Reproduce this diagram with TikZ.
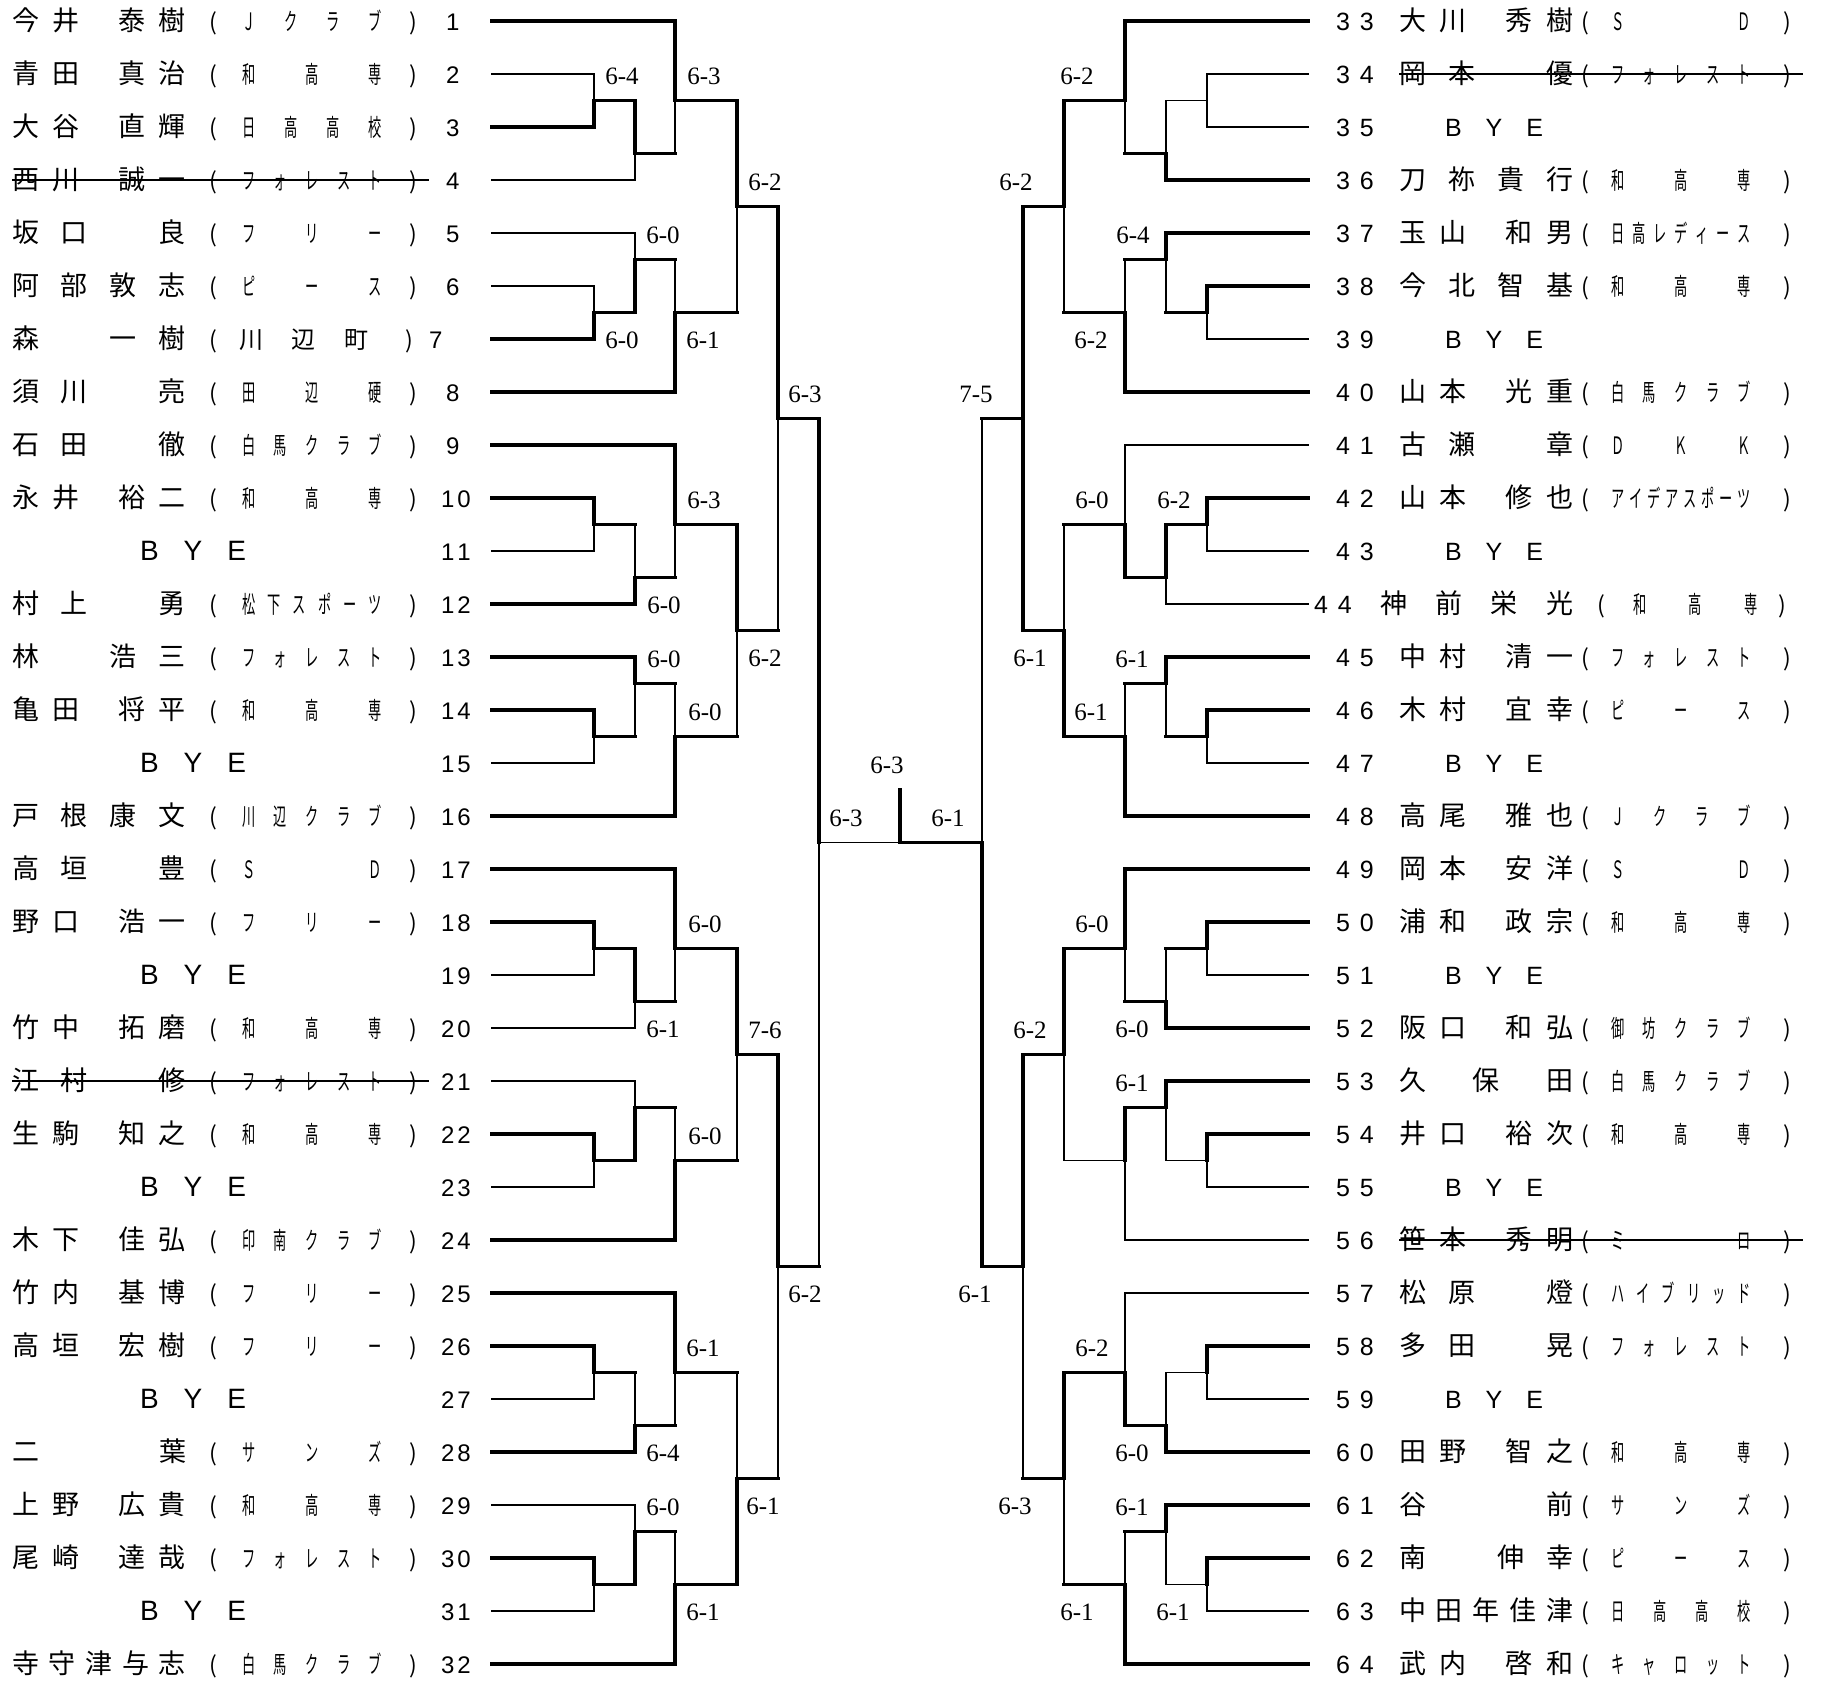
\documentclass[tikz,border=0pt]{standalone}
\usepackage{fontspec}
\setmainfont{Liberation Serif}
\newfontfamily\jpname{Noto Sans CJK JP}
\newfontfamily\jpaff[FakeStretch=0.55]{Noto Sans CJK JP}
\newfontfamily\numfam{Liberation Sans}

\newcommand\namefont{\jpname\fontsize{13.5pt}{16pt}\selectfont}
\newcommand\afffont{\jpaff\fontsize{12pt}{14pt}\selectfont}
\newcommand\parfont{\jpname\fontsize{11.5pt}{14pt}\selectfont}
\newcommand\lnumfont{\numfam\fontsize{12pt}{14pt}\selectfont}
\newcommand\rnumfont{\numfam\fontsize{12.5pt}{14pt}\selectfont}
\newcommand\hs{\hspace*{0.5em}}
\newcommand\fs{\hspace*{1em}}

\makeatletter
\newcommand\spread[1]{\let\sp@sep\relax\@tfor\sp@tok:=#1\do{\sp@sep\sp@tok\let\sp@sep\hfill}}
\newcommand\tracked[2]{\let\tr@sep\relax\@tfor\tr@tok:=#2\do{\tr@sep\tr@tok\def\tr@sep{\hspace{#1}}}}
\makeatother

\tikzset{
  win/.style = {line width=1.7pt, line cap=rect},
  lose/.style = {line width=0.65pt, line cap=rect},
  txt/.style = {inner sep=0pt, outer sep=0pt, yshift=-4.75pt},
  score/.style = {inner sep=0pt, font=\fontsize{12.5pt}{14pt}\selectfont},
}

% bracket columns (left, right)
\newcommand\cLa{594}\newcommand\cLb{635}\newcommand\cLc{675}
\newcommand\cLd{737}\newcommand\cLe{778}\newcommand\cLf{819}
\newcommand\cRa{1207}\newcommand\cRb{1166}\newcommand\cRc{1125}
\newcommand\cRd{1064}\newcommand\cRe{1023}\newcommand\cRf{982}

\newcommand\lline[3]{\draw[#3] (492,#1) -- (#2,#1);}
\newcommand\rline[3]{\draw[#3] (1308,#1) -- (#2,#1);}
% column, top row, top style, out row, bottom row, bottom style, next column, out style
\newcommand\match[8]{%
  \draw[#3] (#1,#2) -- (#1,#4);
  \draw[#6] (#1,#4) -- (#1,#5);
  \draw[#8] (#1,#4) -- (#7,#4);}

\newcounter{sc}
\newcommand\sca[3]{\stepcounter{sc}\node[score] (sc\arabic{sc}) at (#1,#2-0.45) {#3};}
\newcommand\scb[3]{\stepcounter{sc}\node[score] (sc\arabic{sc}) at (#1,#2+0.52) {#3};}

\newcommand\lentry[4]{%
  \node[txt, anchor=base west] (n#4) at (12,#1) {\hbox to 87pt{\namefont\spread{#2}}};
  \node[txt, anchor=base] (po#4) at (213.5,#1) {\parfont(};
  \node[txt, anchor=base west] (a#4) at (242,#1) {\hbox to 70pt{\afffont\spread{#3}}};
  \node[txt, anchor=base] (pc#4) at (413,#1) {\parfont)};
  \node[txt, anchor=base west] (k#4) at ({ifthenelse(#4<10,446,441)},#1) {\lnumfont\tracked{1.5pt}{#4}};}
\newcommand\lbye[2]{%
  \node[txt, anchor=base west] (n#2) at (140,#1) {\numfam\fontsize{14pt}{16pt}\selectfont\tracked{12.5pt}{BYE}};
  \node[txt, anchor=base west] (k#2) at (441,#1) {\lnumfont\tracked{1.5pt}{#2}};}
\newcommand\rentry[4]{%
  \node[txt, anchor=base west] (k#2) at (1336,#1) {\rnumfont\tracked{5pt}{#2}};
  \node[txt, anchor=base west] (n#2) at (1399,#1) {\hbox to 87pt{\namefont\spread{#3}}};
  \node[txt, anchor=base] (po#2) at (1585,#1) {\parfont(};
  \node[txt, anchor=base west] (a#2) at (1611,#1) {\hbox to 70pt{\afffont\spread{#4}}};
  \node[txt, anchor=base] (pc#2) at (1787,#1) {\parfont)};}
\newcommand\rbye[2]{%
  \node[txt, anchor=base west] (k#2) at (1336,#1) {\rnumfont\tracked{5pt}{#2}};
  \node[txt, anchor=base west] (n#2) at (1445,#1) {\rnumfont\tracked{12pt}{BYE}};}

\begin{document}
\begin{tikzpicture}[x=0.5pt, y=-26.5pt]
\fill[white] (0,0.6038) rectangle (1823,32.302);
\useasboundingbox (0,0.6038) rectangle (1823,32.302);

% left entries
\lentry{1}{今井\hs 泰樹}{Ｊクラブ}{1}
\lentry{2}{青田\hs 真治}{和高専}{2}
\lentry{3}{大谷\hs 直輝}{日高高校}{3}
\lentry{4}{西川\hs 誠一}{フォレスト}{4}
\lentry{5}{坂口\fs 良}{フリー}{5}
\lentry{6}{阿部敦志}{ピース}{6}
\node[txt, anchor=base west] (n7) at (12,7) {\hbox to 87pt{\namefont\spread{森\fs 一樹}}};
\node[txt, anchor=base] (po7) at (213.5,7) {\parfont(};
\node[txt, anchor=base west] (a7) at (239,7) {\hbox to 64.5pt{\jpname\fontsize{12pt}{14pt}\selectfont\spread{川辺町}}};
\node[txt, anchor=base] (pc7) at (409,7) {\parfont)};
\node[txt, anchor=base west] (k7) at (429,7) {\lnumfont 7};
\lentry{8}{須川\fs 亮}{田辺硬}{8}
\lentry{9}{石田\fs 徹}{白馬クラブ}{9}
\lentry{10}{永井\hs 裕二}{和高専}{10}
\lbye{11}{11}
\lentry{12}{村上\fs 勇}{松下スポーツ}{12}
\lentry{13}{林\fs 浩三}{フォレスト}{13}
\lentry{14}{亀田\hs 将平}{和高専}{14}
\lbye{15}{15}
\lentry{16}{戸根康文}{川辺クラブ}{16}
\lentry{17}{高垣\fs 豊}{ＳＤ}{17}
\lentry{18}{野口\hs 浩一}{フリー}{18}
\lbye{19}{19}
\lentry{20}{竹中\hs 拓磨}{和高専}{20}
\lentry{21}{江村\fs 修}{フォレスト}{21}
\lentry{22}{生駒\hs 知之}{和高専}{22}
\lbye{23}{23}
\lentry{24}{木下\hs 佳弘}{印南クラブ}{24}
\lentry{25}{竹内\hs 基博}{フリー}{25}
\lentry{26}{高垣\hs 宏樹}{フリー}{26}
\lbye{27}{27}
\lentry{28}{二葉}{サンズ}{28}
\lentry{29}{上野\hs 広貴}{和高専}{29}
\lentry{30}{尾崎\hs 達哉}{フォレスト}{30}
\lbye{31}{31}
\lentry{32}{寺守津与志}{白馬クラブ}{32}
\draw[lose] (13,4) -- (428,4);
\draw[lose] (13,21) -- (428,21);

% right entries
\rentry{1}{33}{大川\hs 秀樹}{ＳＤ}
\rentry{2}{34}{岡本\fs 優}{フォレスト}
\rbye{3}{35}
\rentry{4}{36}{刀祢貴行}{和高専}
\rentry{5}{37}{玉山\hs 和男}{日高レディース}
\rentry{6}{38}{今北智基}{和高専}
\rbye{7}{39}
\rentry{8}{40}{山本\hs 光重}{白馬クラブ}
\rentry{9}{41}{古瀬\fs 章}{ＤＫＫ}
\rentry{10}{42}{山本\hs 修也}{アイデアスポーツ}
\rbye{11}{43}
\node[txt, anchor=base west] (k44) at (1314,12) {\rnumfont\tracked{5pt}{44}};
\node[txt, anchor=base west] (n44) at (1380,12) {\hbox to 96.5pt{\namefont\spread{神前栄光}}};
\node[txt, anchor=base] (po44) at (1601,12) {\parfont(};
\node[txt, anchor=base west] (a44) at (1633,12) {\hbox to 62.5pt{\afffont\spread{和高専}}};
\node[txt, anchor=base] (pc44) at (1782,12) {\parfont)};
\rentry{13}{45}{中村\hs 清一}{フォレスト}
\rentry{14}{46}{木村\hs 宜幸}{ピース}
\rbye{15}{47}
\rentry{16}{48}{高尾\hs 雅也}{Ｊクラブ}
\rentry{17}{49}{岡本\hs 安洋}{ＳＤ}
\rentry{18}{50}{浦和\hs 政宗}{和高専}
\rbye{19}{51}
\rentry{20}{52}{阪口\hs 和弘}{御坊クラブ}
\rentry{21}{53}{久保田}{白馬クラブ}
\rentry{22}{54}{井口\hs 裕次}{和高専}
\rbye{23}{55}
\rentry{24}{56}{笹本\hs 秀明}{ミロ}
\rentry{25}{57}{松原\fs 燈}{ハイブリッド}
\rentry{26}{58}{多田\fs 晃}{フォレスト}
\rbye{27}{59}
\rentry{28}{60}{田野\hs 智之}{和高専}
\rentry{29}{61}{谷前}{サンズ}
\rentry{30}{62}{南\fs 伸幸}{ピース}
\rentry{31}{63}{中田年佳津}{日高高校}
\rentry{32}{64}{武内\hs 啓和}{キャロット}
\draw[lose] (1400,2) -- (1802,2);
\draw[lose] (1400,24) -- (1802,24);

% left bracket
\lline{1}{\cLc}{win} \lline{2}{\cLa}{lose} \lline{3}{\cLa}{win} \lline{4}{\cLb}{lose}
\lline{5}{\cLb}{lose} \lline{6}{\cLa}{lose} \lline{7}{\cLa}{win} \lline{8}{\cLc}{win}
\match{\cLa}{2}{lose}{2.5}{3}{win}{\cLb}{win}
\match{\cLb}{2.5}{win}{3.5}{4}{lose}{\cLc}{win}
\match{\cLc}{1}{win}{2.5}{3.5}{lose}{\cLd}{win}
\match{\cLa}{6}{lose}{6.5}{7}{win}{\cLb}{win}
\match{\cLb}{5}{lose}{5.5}{6.5}{win}{\cLc}{win}
\match{\cLc}{5.5}{lose}{6.5}{8}{win}{\cLd}{win}
\match{\cLd}{2.5}{win}{4.5}{6.5}{lose}{\cLe}{win}
\lline{9}{\cLc}{win} \lline{10}{\cLa}{win} \lline{11}{\cLa}{lose} \lline{12}{\cLb}{win}
\lline{13}{\cLb}{win} \lline{14}{\cLa}{win} \lline{15}{\cLa}{lose} \lline{16}{\cLc}{win}
\match{\cLa}{10}{win}{10.5}{11}{lose}{\cLb}{win}
\match{\cLb}{10.5}{lose}{11.5}{12}{win}{\cLc}{win}
\match{\cLc}{9}{win}{10.5}{11.5}{lose}{\cLd}{win}
\match{\cLa}{14}{win}{14.5}{15}{lose}{\cLb}{win}
\match{\cLb}{13}{win}{13.5}{14.5}{lose}{\cLc}{win}
\match{\cLc}{13.5}{lose}{14.5}{16}{win}{\cLd}{win}
\match{\cLd}{10.5}{win}{12.5}{14.5}{lose}{\cLe}{win}
\match{\cLe}{4.5}{win}{8.5}{12.5}{lose}{\cLf}{win}
\lline{17}{\cLc}{win} \lline{18}{\cLa}{win} \lline{19}{\cLa}{lose} \lline{20}{\cLb}{lose}
\lline{21}{\cLb}{lose} \lline{22}{\cLa}{win} \lline{23}{\cLa}{lose} \lline{24}{\cLc}{win}
\match{\cLa}{18}{win}{18.5}{19}{lose}{\cLb}{win}
\match{\cLb}{18.5}{win}{19.5}{20}{lose}{\cLc}{win}
\match{\cLc}{17}{win}{18.5}{19.5}{lose}{\cLd}{win}
\match{\cLa}{22}{win}{22.5}{23}{lose}{\cLb}{win}
\match{\cLb}{21}{lose}{21.5}{22.5}{win}{\cLc}{win}
\match{\cLc}{21.5}{lose}{22.5}{24}{win}{\cLd}{win}
\match{\cLd}{18.5}{win}{20.5}{22.5}{lose}{\cLe}{win}
\lline{25}{\cLc}{win} \lline{26}{\cLa}{win} \lline{27}{\cLa}{lose} \lline{28}{\cLb}{win}
\lline{29}{\cLb}{lose} \lline{30}{\cLa}{win} \lline{31}{\cLa}{lose} \lline{32}{\cLc}{win}
\match{\cLa}{26}{win}{26.5}{27}{lose}{\cLb}{win}
\match{\cLb}{26.5}{lose}{27.5}{28}{win}{\cLc}{win}
\match{\cLc}{25}{win}{26.5}{27.5}{lose}{\cLd}{win}
\match{\cLa}{30}{win}{30.5}{31}{lose}{\cLb}{win}
\match{\cLb}{29}{lose}{29.5}{30.5}{win}{\cLc}{win}
\match{\cLc}{29.5}{lose}{30.5}{32}{win}{\cLd}{win}
\match{\cLd}{26.5}{lose}{28.5}{30.5}{win}{\cLe}{win}
\match{\cLe}{20.5}{win}{24.5}{28.5}{lose}{\cLf}{win}
\match{\cLf}{8.5}{win}{16.5}{24.5}{lose}{900}{lose}

% right bracket
\rline{1}{\cRc}{win} \rline{2}{\cRa}{lose} \rline{3}{\cRa}{lose} \rline{4}{\cRb}{win}
\rline{5}{\cRb}{win} \rline{6}{\cRa}{win} \rline{7}{\cRa}{lose} \rline{8}{\cRc}{win}
\match{\cRa}{2}{lose}{2.5}{3}{lose}{\cRb}{lose}
\match{\cRb}{2.5}{lose}{3.5}{4}{win}{\cRc}{win}
\match{\cRc}{1}{win}{2.5}{3.5}{lose}{\cRd}{win}
\match{\cRa}{6}{win}{6.5}{7}{lose}{\cRb}{win}
\match{\cRb}{5}{win}{5.5}{6.5}{lose}{\cRc}{win}
\match{\cRc}{5.5}{lose}{6.5}{8}{win}{\cRd}{win}
\match{\cRd}{2.5}{win}{4.5}{6.5}{lose}{\cRe}{win}
\rline{9}{\cRc}{lose} \rline{10}{\cRa}{win} \rline{11}{\cRa}{lose} \rline{12}{\cRb}{lose}
\rline{13}{\cRb}{win} \rline{14}{\cRa}{win} \rline{15}{\cRa}{lose} \rline{16}{\cRc}{win}
\match{\cRa}{10}{win}{10.5}{11}{lose}{\cRb}{win}
\match{\cRb}{10.5}{win}{11.5}{12}{lose}{\cRc}{win}
\match{\cRc}{9}{lose}{10.5}{11.5}{win}{\cRd}{win}
\match{\cRa}{14}{win}{14.5}{15}{lose}{\cRb}{win}
\match{\cRb}{13}{win}{13.5}{14.5}{lose}{\cRc}{win}
\match{\cRc}{13.5}{lose}{14.5}{16}{win}{\cRd}{win}
\match{\cRd}{10.5}{lose}{12.5}{14.5}{win}{\cRe}{win}
\match{\cRe}{4.5}{win}{8.5}{12.5}{win}{\cRf}{win}
\rline{17}{\cRc}{win} \rline{18}{\cRa}{win} \rline{19}{\cRa}{lose} \rline{20}{\cRb}{win}
\rline{21}{\cRb}{win} \rline{22}{\cRa}{win} \rline{23}{\cRa}{lose} \rline{24}{\cRc}{lose}
\match{\cRa}{18}{win}{18.5}{19}{lose}{\cRb}{win}
\match{\cRb}{18.5}{lose}{19.5}{20}{win}{\cRc}{win}
\match{\cRc}{17}{win}{18.5}{19.5}{lose}{\cRd}{win}
\match{\cRa}{22}{win}{22.5}{23}{lose}{\cRb}{lose}
\match{\cRb}{21}{win}{21.5}{22.5}{lose}{\cRc}{win}
\match{\cRc}{21.5}{win}{22.5}{24}{lose}{\cRd}{lose}
\match{\cRd}{18.5}{win}{20.5}{22.5}{lose}{\cRe}{win}
\rline{25}{\cRc}{lose} \rline{26}{\cRa}{win} \rline{27}{\cRa}{lose} \rline{28}{\cRb}{win}
\rline{29}{\cRb}{win} \rline{30}{\cRa}{win} \rline{31}{\cRa}{lose} \rline{32}{\cRc}{win}
\match{\cRa}{26}{win}{26.5}{27}{lose}{\cRb}{lose}
\match{\cRb}{26.5}{lose}{27.5}{28}{win}{\cRc}{win}
\match{\cRc}{25}{lose}{26.5}{27.5}{win}{\cRd}{win}
\match{\cRa}{30}{win}{30.5}{31}{lose}{\cRb}{lose}
\match{\cRb}{29}{win}{29.5}{30.5}{lose}{\cRc}{win}
\match{\cRc}{29.5}{lose}{30.5}{32}{win}{\cRd}{win}
\match{\cRd}{26.5}{win}{28.5}{30.5}{lose}{\cRe}{win}
\match{\cRe}{20.5}{win}{24.5}{28.5}{lose}{\cRf}{win}
\match{\cRf}{8.5}{lose}{16.5}{24.5}{win}{900}{win}
\draw[win] (900,15.5) -- (900,16.5);
\node[score] (final) at (887,15.04) {6-3};

% scores
\sca{622}{2.5}{6-4} \sca{704}{2.5}{6-3} \scb{622}{6.5}{6-0} \sca{663}{5.5}{6-0}
\scb{703}{6.5}{6-1} \sca{765}{4.5}{6-2}
\scb{664}{11.5}{6-0} \sca{704}{10.5}{6-3} \sca{664}{13.5}{6-0} \sca{705}{14.5}{6-0}
\scb{765}{12.5}{6-2} \sca{805}{8.5}{6-3}
\scb{663}{19.5}{6-1} \sca{705}{18.5}{6-0} \sca{705}{22.5}{6-0} \sca{765}{20.5}{7-6}
\scb{663}{27.5}{6-4} \sca{703}{26.5}{6-1} \sca{663}{29.5}{6-0} \scb{703}{30.5}{6-1}
\scb{763}{28.5}{6-1} \scb{805}{24.5}{6-2}
\sca{846}{16.5}{6-3} \sca{948}{16.5}{6-1} \sca{976}{8.5}{7-5}
\sca{1077}{2.5}{6-2} \sca{1133}{5.5}{6-4} \scb{1091}{6.5}{6-2} \sca{1016}{4.5}{6-2}
\sca{1174}{10.5}{6-2} \sca{1092}{10.5}{6-0} \sca{1132}{13.5}{6-1} \sca{1091}{14.5}{6-1}
\scb{1030}{12.5}{6-1}
\scb{1132}{19.5}{6-0} \sca{1092}{18.5}{6-0} \sca{1132}{21.5}{6-1} \sca{1030}{20.5}{6-2}
\scb{975}{24.5}{6-1}
\scb{1132}{27.5}{6-0} \sca{1092}{26.5}{6-2} \scb{1173}{30.5}{6-1} \sca{1132}{29.5}{6-1}
\scb{1077}{30.5}{6-1} \scb{1015}{28.5}{6-3}
\end{tikzpicture}
\end{document}
